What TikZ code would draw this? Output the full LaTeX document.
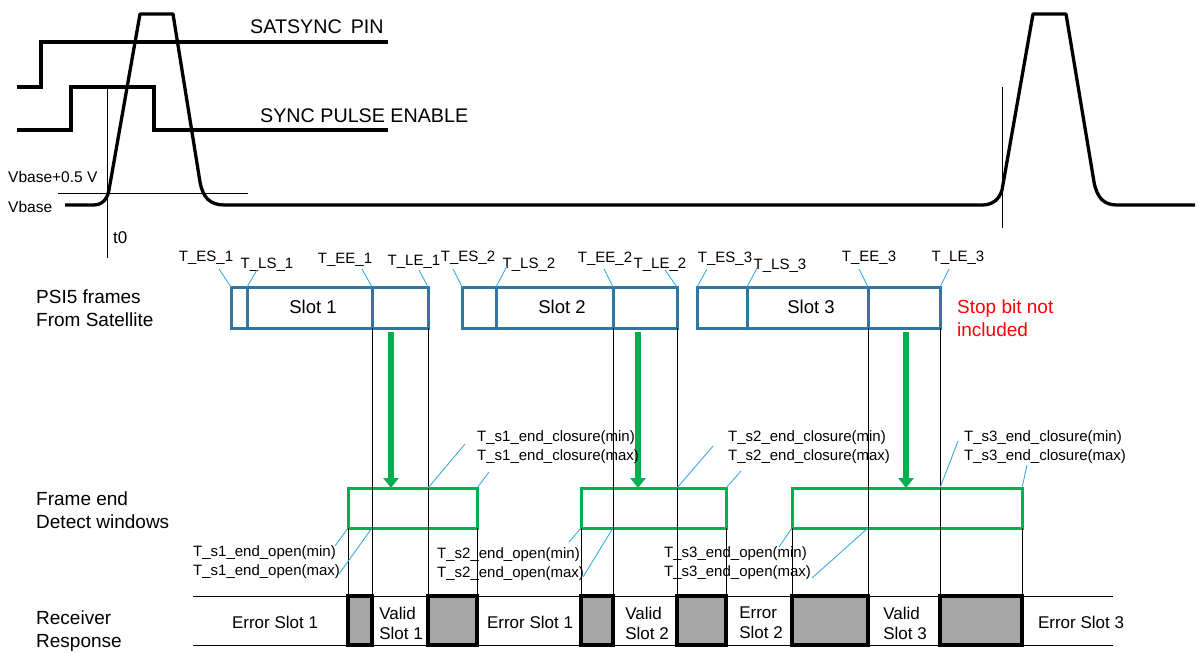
\documentclass[tikz,border=0pt]{standalone}
\usepackage{fontspec}
\setmainfont{Liberation Sans}
\usetikzlibrary{arrows.meta,calc}
\definecolor{framec}{RGB}{49,118,160}
\definecolor{leadc}{RGB}{60,170,225}
\definecolor{greenc}{RGB}{0,176,80}
\definecolor{grayc}{RGB}{166,166,166}
\definecolor{redc}{RGB}{255,0,0}
\begin{document}
\begin{tikzpicture}[x=1pt,y=-1pt,
  wave/.style={line width=3.3pt,line join=miter},
  thinl/.style={line width=1pt,black},
  leader/.style={line width=0.9pt,leadc},
  framebox/.style={draw=framec,line width=3pt,minimum height=41pt,inner sep=0pt,outer sep=0pt,anchor=north west},
  winbox/.style={draw=greenc,line width=3pt,minimum height=40pt,inner sep=0pt,outer sep=0pt,anchor=north west},
  graybox/.style={draw=black,fill=grayc,line width=3.2pt,minimum height=49pt,inner sep=0pt,outer sep=0pt,anchor=north west},
  garrow/.style={greenc,line width=6pt,-{Triangle[width=15pt,length=10pt]}},
  biglbl/.style={font=\fontsize{19}{23}\selectfont,inner sep=0pt,align=left},
  siglbl/.style={font=\fontsize{19.7}{23}\selectfont,inner sep=0pt,anchor=west},
  smalllbl/.style={font=\fontsize{15}{18.5}\selectfont,inner sep=0pt,align=left},
  slotlbl/.style={font=\fontsize{18.5}{22}\selectfont,inner sep=0pt},
  resplbl/.style={font=\fontsize{17}{20}\selectfont,inner sep=0pt,align=left},
  voltlbl/.style={font=\fontsize{15.5}{18}\selectfont,inner sep=0pt,anchor=west}
]
\useasboundingbox (0,0) rectangle (1199,653);

% ---------- waveforms ----------
\draw[wave] (17,87) -- (41,87) -- (41,42) -- (388,42);
\draw[wave] (17,130) -- (71,130) -- (71,87) -- (154,87) -- (154,130) -- (388,130);
\draw[wave,line join=round] (65,205) -- (93,205) .. controls (102,205) and (107,200) .. (109,190) -- (140,14) -- (173,14) -- (200,182)
  .. controls (203,198) and (210,205) .. (225,205) -- (982,205)
  .. controls (992,205) and (999,200) .. (1002,190) -- (1033,14) -- (1066,14) -- (1094,182)
  .. controls (1097,198) and (1104,205) .. (1117,205) -- (1195,205);
\draw[thinl] (58,193) -- (248,193);
\draw[thinl] (107,87) -- (107,258);
\draw[thinl] (1002,87) -- (1002,228);

\node[siglbl] (satsync) at (250,27) {SATSYNC\hspace{9pt}PIN};
\node[siglbl] (syncpe) at (260,116) {SYNC PULSE ENABLE};
\node[voltlbl] (vb05) at (8,177) {Vbase+0.5 V};
\node[voltlbl] (vb) at (8,207) {Vbase};
\node[biglbl,anchor=west,font=\fontsize{17}{20}\selectfont] (t0) at (113,238) {t0};

% ---------- left labels ----------
\node[biglbl,anchor=west] (psi) at (36,308.5) {PSI5 frames\\From Satellite};
\node[biglbl,anchor=west] (fed) at (36,510.5) {Frame end\\Detect windows};
\node[biglbl,anchor=west] (rr) at (36,631) {Receiver\\Response};
\node[biglbl,anchor=west,text=redc] (stop) at (957,318.5) {Stop bit not\\included};

% ---------- receiver response row ----------
\coordinate (rtl) at (193,596);
\coordinate (rtr) at (1113,596);
\coordinate (rbl) at (193,645);
\coordinate (rbr) at (1113,645);
\draw[thinl] (rtl) -- (rtr);
\draw[thinl] (rbl) -- (rbr);

% ---------- frames ----------
\node[framebox,minimum width=16pt] (f1a) at (231,287) {};
\node[framebox,minimum width=125pt] (f1b) at (247,287) {};
\node[framebox,minimum width=56pt] (f1c) at (372,287) {};
\node[framebox,minimum width=34pt] (f2a) at (462,287) {};
\node[framebox,minimum width=117pt] (f2b) at (496,287) {};
\node[framebox,minimum width=64pt] (f2c) at (613,287) {};
\node[framebox,minimum width=50pt] (f3a) at (697,287) {};
\node[framebox,minimum width=121pt] (f3b) at (747,287) {};
\node[framebox,minimum width=72pt] (f3c) at (868,287) {};
\node[slotlbl] (s1t) at (313,307) {Slot 1};
\node[slotlbl] (s2t) at (562,307) {Slot 2};
\node[slotlbl] (s3t) at (811,307) {Slot 3};

% ---------- gray boxes ----------
\node[graybox,minimum width=24pt] (g1) at (348,596) {};
\node[graybox,minimum width=49pt] (g2) at (428,596) {};
\node[graybox,minimum width=32pt] (g3) at (581,596) {};
\node[graybox,minimum width=49pt] (g4) at (677,596) {};
\node[graybox,minimum width=76pt] (g5) at (792,596) {};
\node[graybox,minimum width=82pt] (g6) at (940,596) {};

% ---------- windows ----------
\node[winbox,minimum width=129pt] (w1) at (348,488) {};
\node[winbox,minimum width=145pt] (w2) at (581,488) {};
\node[winbox,minimum width=230pt] (w3) at (792,488) {};

% ---------- vertical connectors ----------
\draw[thinl] (f1c.south west) -- (g1.north east);
\draw[thinl] (f1c.south east) -- (g2.north west);
\draw[thinl] (f2c.south west) -- (g3.north east);
\draw[thinl] (f2c.south east) -- (g4.north west);
\draw[thinl] (f3c.south west) -- (g5.north east);
\draw[thinl] (f3c.south east) -- (g6.north west);
\draw[thinl] (w1.south west) -- (g1.north west);
\draw[thinl] (w1.south east) -- (g2.north east);
\draw[thinl] (w2.south west) -- (g3.north west);
\draw[thinl] (w2.south east) -- (g4.north east);
\draw[thinl] (w3.south west) -- (g5.north west);
\draw[thinl] (w3.south east) -- (g6.north east);

% ---------- green arrows ----------
\coordinate (a1) at (391,332);
\coordinate (a2) at (638,332);
\coordinate (a3) at (906,332);
\draw[garrow] (a1) -- (a1 |- w1.north);
\draw[garrow] (a2) -- (a2 |- w2.north);
\draw[garrow] (a3) -- (a3 |- w3.north);

% ---------- frame time labels ----------
\node[smalllbl] (les1) at (206,258) {T\_ES\_1};
\node[smalllbl] (lls1) at (267,265) {T\_LS\_1};
\node[smalllbl] (lee1) at (345,260) {T\_EE\_1};
\node[smalllbl] (lle1) at (414,262) {T\_LE\_1};
\node[smalllbl] (les2) at (468,258) {T\_ES\_2};
\node[smalllbl] (lls2) at (529,265) {T\_LS\_2};
\node[smalllbl] (lee2) at (605,259) {T\_EE\_2};
\node[smalllbl] (lle2) at (660,265) {T\_LE\_2};
\node[smalllbl] (les3) at (725,259) {T\_ES\_3};
\node[smalllbl] (lls3) at (780,266) {T\_LS\_3};
\node[smalllbl] (lee3) at (869,258) {T\_EE\_3};
\node[smalllbl] (lle3) at (958,258) {T\_LE\_3};

\coordinate (ces1) at (219,269); \draw[leader] (ces1) -- (f1a.north west);
\coordinate (cls1) at (257,270); \draw[leader] (cls1) -- (f1b.north west);
\coordinate (cee1) at (362,269); \draw[leader] (cee1) -- (f1c.north west);
\coordinate (cle1) at (419,270); \draw[leader] (cle1) -- (f1c.north east);
\coordinate (ces2) at (453,269); \draw[leader] (ces2) -- (f2a.north west);
\coordinate (cls2) at (507,266); \draw[leader] (cls2) -- (f2b.north west);
\coordinate (cee2) at (604,269); \draw[leader] (cee2) -- (f2c.north west);
\coordinate (cle2) at (665,270); \draw[leader] (cle2) -- (f2c.north east);
\coordinate (ces3) at (707,269); \draw[leader] (ces3) -- (f3a.north west);
\coordinate (cls3) at (757,268); \draw[leader] (cls3) -- (f3b.north west);
\coordinate (cee3) at (859,269); \draw[leader] (cee3) -- (f3c.north west);
\coordinate (cle3) at (949,269); \draw[leader] (cle3) -- (f3c.north east);

% ---------- window labels ----------
\node[smalllbl,anchor=west] (cl1) at (477,447) {T\_s1\_end\_closure(min)\\T\_s1\_end\_closure(max)};
\node[smalllbl,anchor=west] (cl2) at (728,447) {T\_s2\_end\_closure(min)\\T\_s2\_end\_closure(max)};
\node[smalllbl,anchor=west] (cl3) at (964,447) {T\_s3\_end\_closure(min)\\T\_s3\_end\_closure(max)};
\node[smalllbl,anchor=west] (op1) at (193,562) {T\_s1\_end\_open(min)\\T\_s1\_end\_open(max)};
\node[smalllbl,anchor=west] (op2) at (437,564) {T\_s2\_end\_open(min)\\T\_s2\_end\_open(max)};
\node[smalllbl,anchor=west] (op3) at (664,563) {T\_s3\_end\_open(min)\\T\_s3\_end\_open(max)};

\coordinate (k1a) at (465,444); \draw[leader] (k1a) -- (f1c.east |- w1.north);
\coordinate (k1b) at (489,472); \draw[leader] (k1b) -- (w1.north east);
\coordinate (k2a) at (713,446); \draw[leader] (k2a) -- (f2c.east |- w2.north);
\coordinate (k2b) at (741,471); \draw[leader] (k2b) -- (w2.north east);
\coordinate (k3a) at (958,441); \draw[leader] (k3a) -- (f3c.east |- w3.north);
\coordinate (k3b) at (1027,465); \draw[leader] (k3b) -- (w3.north east);
\coordinate (o1a) at (335,546); \draw[leader] (o1a) -- (w1.south west);
\coordinate (o1b) at (339,574); \draw[leader] (o1b) -- (f1c.west |- w1.south);
\coordinate (o2a) at (569,542); \draw[leader] (o2a) -- (w2.south west);
\coordinate (o2b) at (583,577); \draw[leader] (o2b) -- (f2c.west |- w2.south);
\coordinate (o3a) at (779,547); \draw[leader] (o3a) -- (w3.south west);
\coordinate (o3b) at (812,578); \draw[leader] (o3b) -- (f3c.west |- w3.south);

% ---------- response texts ----------
\node[resplbl] (e1) at (275,622) {Error Slot 1};
\node[resplbl] (v1) at (401,623) {Valid\\Slot 1};
\node[resplbl] (e1b) at (530,622) {Error Slot 1};
\node[resplbl] (v2) at (647,623) {Valid\\Slot 2};
\node[resplbl] (e2) at (761,623) {Error\\Slot 2};
\node[resplbl] (v3) at (905,623) {Valid\\Slot 3};
\node[resplbl] (e3) at (1081,622) {Error Slot 3};
\end{tikzpicture}
\end{document}
